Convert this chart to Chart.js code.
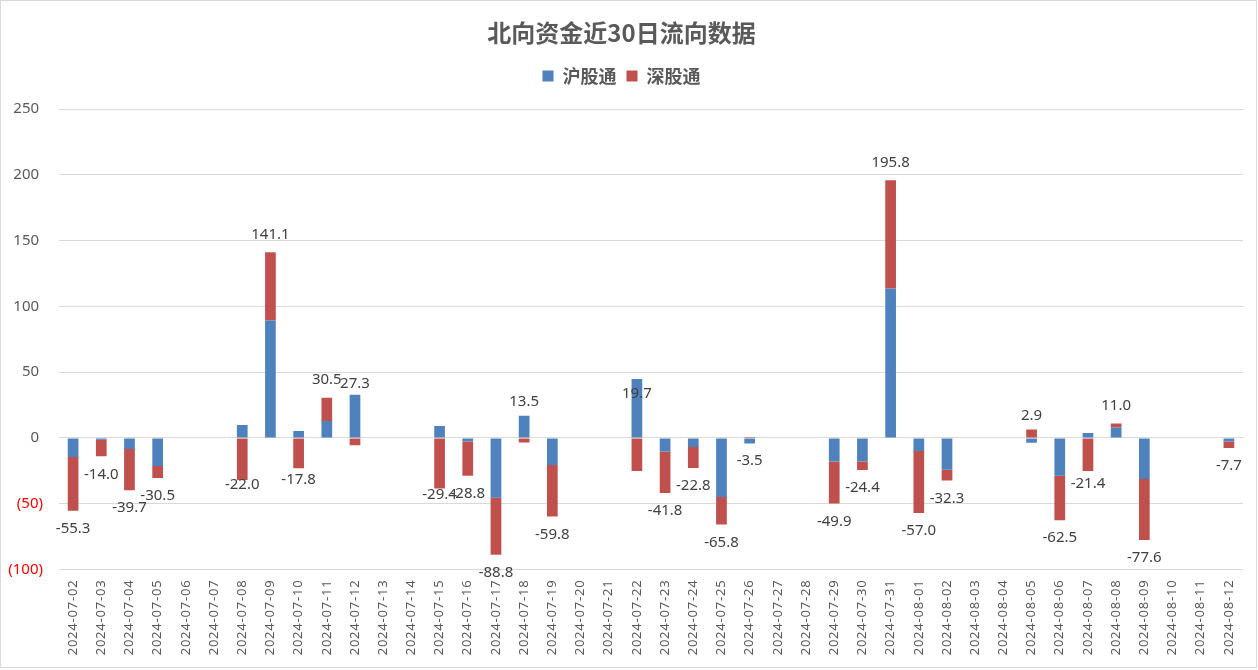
<!DOCTYPE html>
<html>
<head>
<meta charset="utf-8">
<script src="https://cdn.jsdelivr.net/npm/chart.js@4.4.1/dist/chart.umd.min.js"></script>
<style>
html,body{margin:0;padding:0;background:#fff;}
canvas{display:block;}
</style>
</head>
<body>
<canvas id="c" width="1258" height="670"></canvas>
<script>
const categories = [
  "2024-07-02","2024-07-03","2024-07-04","2024-07-05","2024-07-06","2024-07-07",
  "2024-07-08","2024-07-09","2024-07-10","2024-07-11","2024-07-12","2024-07-13","2024-07-14",
  "2024-07-15","2024-07-16","2024-07-17","2024-07-18","2024-07-19","2024-07-20","2024-07-21",
  "2024-07-22","2024-07-23","2024-07-24","2024-07-25","2024-07-26","2024-07-27","2024-07-28",
  "2024-07-29","2024-07-30","2024-07-31","2024-08-01","2024-08-02","2024-08-03","2024-08-04",
  "2024-08-05","2024-08-06","2024-08-07","2024-08-08","2024-08-09","2024-08-10","2024-08-11",
  "2024-08-12"
];
const shValues = [
  -14.5, -1.3, -8.4, -21.3, null, null,
  9.9, 89.3, 5.3, 12.9, 32.9, null, null,
  9.1, -2.8, -45.4, 16.9, -20.6, null, null,
  44.8, -10.4, -6.9, -44.9, -4.3, null, null,
  -18.0, -18.0, 113.5, -9.9, -24.1, null, null,
  -3.6, -28.7, 3.8, 7.9, -31.2, null, null,
  -2.8
];
const szValues = [
  -40.8, -12.7, -31.3, -9.2, null, null,
  -31.9, 51.8, -23.1, 17.6, -5.6, null, null,
  -38.5, -26.0, -43.4, -3.4, -39.2, null, null,
  -25.1, -31.4, -15.9, -20.9, 0.8, null, null,
  -31.9, -6.4, 82.3, -47.1, -8.2, null, null,
  6.5, -33.8, -25.2, 3.1, -46.4, null, null,
  -4.9
];
const totalValues = [
  -55.3, -14.0, -39.7, -30.5, null, null,
  -22.0, 141.1, -17.8, 30.5, 27.3, null, null,
  -29.4, -28.8, -88.8, 13.5, -59.8, null, null,
  19.7, -41.8, -22.8, -65.8, -3.5, null, null,
  -49.9, -24.4, 195.8, -57.0, -32.3, null, null,
  2.9, -62.5, -21.4, 11.0, -77.6, null, null,
  -7.7
];
const yTicks = { min: -100, max: 250, step: 50 };

const NUM_FONT = '"Noto Sans", "Open Sans", sans-serif';
const CJK_FONT = '"Noto Sans CJK SC", "Noto Sans", sans-serif';

const helperPlugin = {
  id: 'helper',
  beforeLayout(chart) {
    const lg = chart.legend;
    if (lg && !lg._gapPatched) {
      const orig = lg.fit;
      lg.fit = function () { orig.call(this); this.height += 14; };
      lg._gapPatched = true;
    }
  },
  afterLayout(chart) {
    const s = chart.scales.x;
    if (s && !s._lsPatched) {
      const orig = s.drawLabels;
      s.drawLabels = function (a) {
        const c = this.ctx; c.save();
        try { c.letterSpacing = '0.8px'; } catch (e) {}
        orig.call(this, a); c.restore();
      };
      s._lsPatched = true;
    }
  },
  beforeDraw(chart) {
    const ctx = chart.ctx;
    ctx.save();
    ctx.fillStyle = '#ffffff';
    ctx.fillRect(0, 0, chart.width, chart.height);
    ctx.strokeStyle = '#d9d9d9';
    ctx.lineWidth = 1;
    ctx.strokeRect(0.5, 0.5, 1256, 667);
    ctx.restore();
  },
  afterDatasetsDraw(chart) {
    const { ctx, scales: { x, y } } = chart;
    ctx.save();
    ctx.font = '15px ' + NUM_FONT;
    ctx.fillStyle = '#404040';
    ctx.textAlign = 'center';
    ctx.textBaseline = 'middle';
    totalValues.forEach((t, i) => {
      if (t === null) return;
      const px = x.getPixelForValue(i);
      const py = y.getPixelForValue(t) + (t < 0 ? 18 : -18);
      ctx.fillText(t.toFixed(1), px, py);
    });
    ctx.restore();
  }
};

new Chart(document.getElementById('c'), {
  type: 'bar',
  data: {
    labels: categories,
    datasets: [
      { label: '沪股通', data: shValues, backgroundColor: '#4F81BD', borderWidth: 0 },
      { label: '深股通', data: szValues, backgroundColor: '#C0504D', borderWidth: 0 }
    ]
  },
  options: {
    responsive: false,
    animation: false,
    layout: { padding: { left: 0, right: 15, top: 0, bottom: 0 } },
    datasets: { bar: { categoryPercentage: 1.0, barPercentage: 0.38 } },
    plugins: {
      tooltip: { enabled: false },
      title: {
        display: true,
        text: '北向资金近30日流向数据',
        color: '#595959',
        font: { family: CJK_FONT, size: 24, weight: 'bold', lineHeight: 1.2 },
        padding: { top: 18.6, bottom: 9.6 }
      },
      legend: {
        display: true,
        position: 'top',
        labels: {
          color: '#595959',
          font: { family: CJK_FONT, size: 18, weight: 'bold' },
          boxWidth: 11,
          boxHeight: 11,
          padding: 10
        }
      }
    },
    scales: {
      x: {
        stacked: true,
        grid: { display: false, drawTicks: false },
        border: { display: false },
        ticks: {
          autoSkip: false,
          minRotation: 90,
          maxRotation: 90,
          padding: 10,
          color: '#595959',
          font: { family: NUM_FONT, size: 13 }
        },
        afterFit(scale) { scale.height = 100.5; }
      },
      y: {
        stacked: true,
        min: yTicks.min,
        max: yTicks.max,
        grid: { color: '#d9d9d9', drawTicks: false, lineWidth: 1 },
        border: { display: false },
        ticks: {
          stepSize: yTicks.step,
          padding: 16,
          color: (ctx) => (ctx.tick && ctx.tick.value < 0 ? '#FF0000' : '#595959'),
          font: { family: NUM_FONT, size: 15 },
          callback: (v) => (v < 0 ? '(' + (-v) + ')' : String(v) + ' ')
        },
        afterFit(scale) { scale.width = 59; }
      }
    }
  },
  plugins: [helperPlugin]
});
</script>
</body>
</html>
